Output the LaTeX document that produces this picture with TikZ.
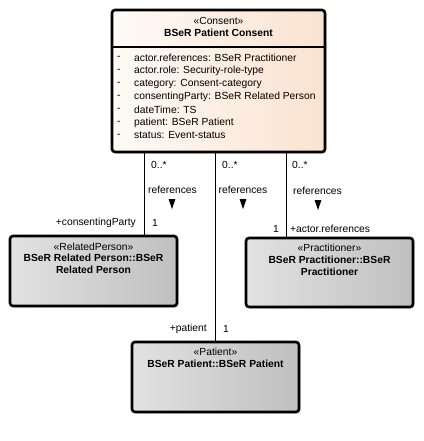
\documentclass[tikz,border=0pt]{standalone}
\usepackage{fontspec}
\setmainfont{Liberation Sans}
\usetikzlibrary{arrows.meta, positioning, shapes.geometric, shadows, calc}

\definecolor{consentL}{RGB}{255,251,247}
\definecolor{consentR}{RGB}{250,226,208}
\definecolor{grayL}{RGB}{226,226,226}
\definecolor{grayR}{RGB}{192,192,192}

\begin{document}
\begin{tikzpicture}[
    x=1pt, y=-1pt,
    font=\fontsize{10.3}{12.8}\selectfont,
    classbox/.style={draw, line width=2.6pt, rounded corners=3pt,
                     drop shadow={shadow xshift=1.5pt, shadow yshift=-1.5pt,
                                  fill=black!15, opacity=1},
                     inner sep=0pt},
    consentbox/.style={classbox, left color=consentL, right color=consentR},
    graybox/.style={classbox, left color=grayL, right color=grayR},
    title/.style={anchor=north, align=center, inner sep=0pt},
    attr/.style={anchor=west, inner sep=0pt},
    lbl/.style={inner sep=0pt},
    dirmark/.style={draw=none, fill=black, isosceles triangle,
                    shape border rotate=270, isosceles triangle apex angle=38,
                    minimum height=10pt, minimum width=6.5pt, inner sep=0pt}
  ]
  \useasboundingbox (0,0) rectangle (423,441);

  % classes
  \node[consentbox, minimum width=213pt, minimum height=142pt] (consent) at (218.5,81) {};
  \draw[line width=2.2pt] (consent.west |- 0,47) -- (consent.east |- 0,47);
  \node[title] (consentT) at (218.5,17) {«Consent»\\[-1pt]\textbf{BSeR Patient Consent}};
  \foreach \i/\txt in {0/actor.references: BSeR Practitioner,
                       1/actor.role: Security-role-type,
                       2/category: Consent-category,
                       3/consentingParty: BSeR Related Person,
                       4/dateTime: TS,
                       5/patient: BSeR Patient,
                       6/status: Event-status} {
    \node[attr] (dash\i) at (117,57.5+13*\i) {-};
    \node[attr] (attr\i) at (134,57.5+13*\i) {\txt};
  }

  \node[graybox, minimum width=167pt, minimum height=70pt] (related) at (93.5,271) {};
  \node[title] (relatedT) at (93.5,243) {«RelatedPerson»\\[-1.5pt]\textbf{BSeR Related Person::BSeR}\\[-1.5pt]\textbf{Related Person}};

  \node[graybox, minimum width=167pt, minimum height=69pt] (practitioner) at (329.5,272.5) {};
  \node[title] (practitionerT) at (329.5,244) {«Practitioner»\\[-1pt]\textbf{BSeR Practitioner::BSeR}\\[-1pt]\textbf{Practitioner}};

  \node[graybox, minimum width=167pt, minimum height=70pt] (patient) at (215.5,377) {};
  \node[title] (patientT) at (215.5,348) {«Patient»\\[-1pt]\textbf{BSeR Patient::BSeR Patient}};

  % associations
  \coordinate (c1) at (144,152);
  \coordinate (c2) at (215,152);
  \coordinate (c3) at (286,152);
  \draw[line width=0.8pt] (c1) -- (c1 |- related.north);
  \draw[line width=0.8pt] (c2) -- (c2 |- patient.north);
  \draw[line width=0.8pt] (c3) -- (c3 |- practitioner.north);

  \node[lbl, anchor=west] (m1) at (151,165) {0..*};
  \node[lbl, anchor=west] (m2) at (222,165) {0..*};
  \node[lbl, anchor=west] (m3) at (292,165) {0..*};
  \node[lbl] (r1) at (172.5,189.5) {references};
  \node[lbl] (r2) at (243,189.5) {references};
  \node[lbl] (r3) at (317.5,190.5) {references};
  \node[dirmark] (d1) at (172,201.5) {};
  \node[dirmark] (d2) at (243,201.5) {};
  \node[dirmark] (d3) at (318,202.5) {};

  \node[lbl, anchor=east] (role1) at (136,223) {+consentingParty};
  \node[lbl] (one1) at (155,223) {1};
  \node[lbl] (one3) at (276,229) {1};
  \node[lbl, anchor=west] (role3) at (290,229) {+actor.references};
  \node[lbl, anchor=east] (role2) at (207,329) {+patient};
  \node[lbl] (one2) at (226,329) {1};
\end{tikzpicture}
\end{document}
